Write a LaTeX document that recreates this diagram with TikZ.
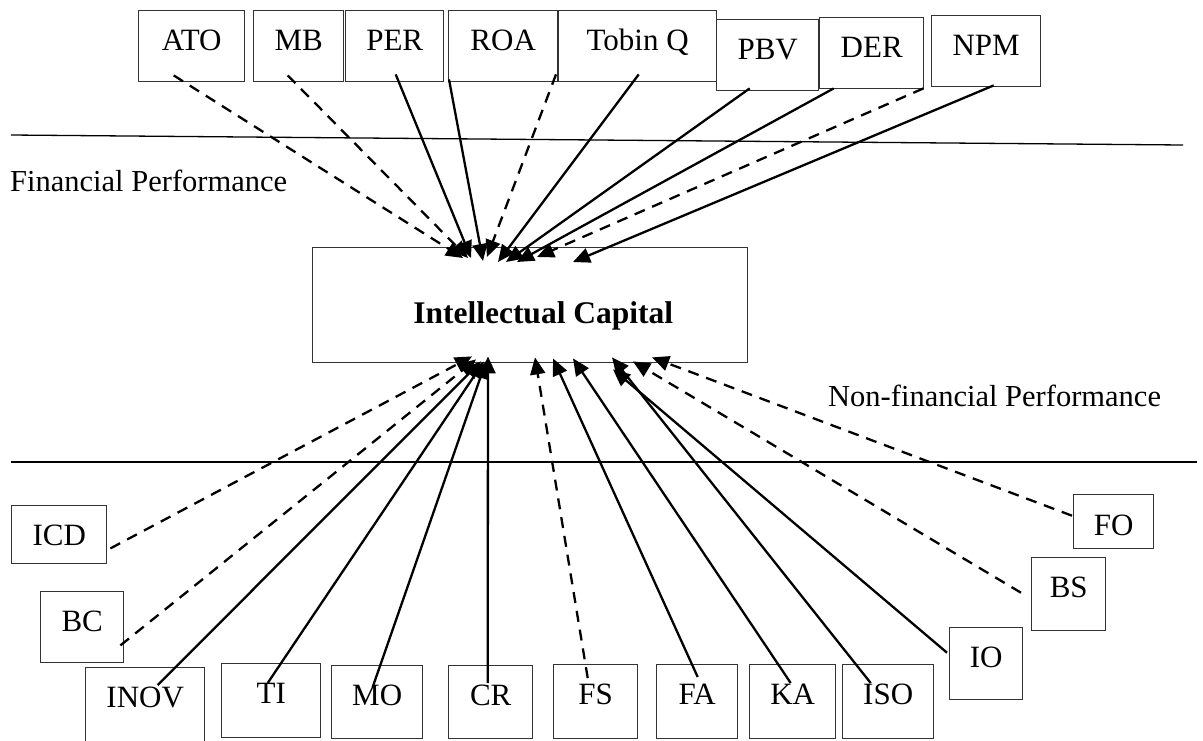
\documentclass[tikz,border=0pt]{standalone}
\usepackage{fontspec}
\setmainfont{Liberation Serif}
\usetikzlibrary{arrows.meta,calc}

\tikzset{
  box/.style={draw=black!80, line width=1.4pt, inner sep=0pt, text height=40pt,
    anchor=north west, font=\fontsize{31}{36}\selectfont},
  link/.style={line width=2.3pt, -{Triangle[length=17pt,width=15pt]}},
  dlink/.style={link, dash pattern=on 11pt off 8pt},
  rule/.style={line width=1.3pt},
  caption/.style={font=\fontsize{30.5}{36}\selectfont, anchor=base west, inner sep=0pt}
}

\begin{document}
\begin{tikzpicture}[x=1pt,y=-1pt]
\useasboundingbox (0,0) rectangle (1203,740);

% separating rules
\draw[rule] (11,135) -- (1183,145);
\draw[rule] (11,462) -- (1197,462);

\node[caption] (fin) at (10,191) {Financial Performance};
\node[caption] (nonfin) at (828,406) {Non-financial Performance};

% central construct
\node[box, minimum width=435pt, text height=76pt, text depth=39pt,
      font=\fontsize{31.5}{36}\selectfont\bfseries] (ic) at (312,247)
      {\hspace*{26pt}Intellectual Capital};

% financial indicators
\node[box, minimum width=106pt, text depth=31pt] (ato)   at (138,10) {ATO};
\node[box, minimum width=90pt,  text depth=31pt] (mb)    at (253,10) {MB};
\node[box, minimum width=98pt,  text depth=31pt] (per)   at (345,10) {PER};
\node[box, minimum width=109pt, text depth=31pt] (roa)   at (448,10) {ROA};
\node[box, minimum width=158pt, text depth=31pt] (tobin) at (558,10) {Tobin Q};
\node[box, minimum width=102pt, text depth=31pt] (pbv)   at (716,19) {PBV};
\node[box, minimum width=104pt, text depth=31pt] (der)   at (819,17) {DER};
\node[box, minimum width=109pt, text depth=31pt] (npm)   at (931,15) {NPM};

% non-financial indicators
\node[box, minimum width=95pt,  text depth=18pt] (icd)  at (11,505)  {ICD};
\node[box, minimum width=83pt,  text depth=31pt] (bc)   at (40,591)  {BC};
\node[box, minimum width=119pt, text depth=55pt] (inov) at (85,667)  {INOV};
\node[box, minimum width=99pt,  text depth=34pt] (ti)   at (221,663) {TI};
\node[box, minimum width=91pt,  text depth=33pt] (mo)   at (331,665) {MO};
\node[box, minimum width=84pt,  text depth=33pt] (cr)   at (448,665) {CR};
\node[box, minimum width=84pt,  text depth=34pt] (fs)   at (553,664) {FS};
\node[box, minimum width=81pt,  text depth=34pt] (fa)   at (656,664) {FA};
\node[box, minimum width=86pt,  text depth=34pt] (ka)   at (749,664) {KA};
\node[box, minimum width=91pt,  text depth=34pt] (iso)  at (842,664) {ISO};
\node[box, minimum width=73pt,  text depth=32pt] (io)   at (949,627) {IO};
\node[box, minimum width=74pt,  text depth=33pt] (bs)   at (1031,557) {BS};
\node[box, minimum width=80pt,  text height=41pt, text depth=13pt] (fo) at (1073,494) {FO};

% connector ends on the financial side
\coordinate (ato-o)   at ($(ato.south)+(-18,-7)$);
\coordinate (mb-o)    at ($(mb.south)+(-11,-7)$);
\coordinate (per-o)   at ($(per.south)+(1,-8)$);
\coordinate (roa-o)   at ($(roa.south west)+(1,-3)$);
\coordinate (tobd-o)  at ($(tobin.south west)+(-2,-8)$);
\coordinate (tob-o)   at ($(tobin.south)+(1,-8)$);
\coordinate (pbv-o)   at ($(pbv.south)+(-18,-3)$);
\coordinate (der-o)   at ($(der.south)+(-38,-1)$);
\coordinate (derd-o)  at ($(der.south east)+(-1,-1)$);
\coordinate (npm-o)   at ($(npm.south)+(7.5,-2)$);

\coordinate (ato-i)   at ($(ic.north west)+(151,11)$);
\coordinate (mb-i)    at ($(ic.north west)+(156,11)$);
\coordinate (per-i)   at ($(ic.north west)+(159,11)$);
\coordinate (roa-i)   at ($(ic.north west)+(171,14)$);
\coordinate (tobd-i)  at ($(ic.north west)+(175,10)$);
\coordinate (tob-i)   at ($(ic.north west)+(186,15)$);
\coordinate (pbv-i)   at ($(ic.north west)+(194,15)$);
\coordinate (der-i)   at ($(ic.north west)+(205,15)$);
\coordinate (derd-i)  at ($(ic.north west)+(225,10)$);
\coordinate (npm-i)   at ($(ic.north west)+(261,15)$);

% connector ends on the non-financial side
\coordinate (icd-o)  at ($(icd.south east)+(3,-16)$);
\coordinate (bc-o)   at ($(bc.south east)+(-4,-18)$);
\coordinate (inov-o) at ($(inov.north)+(12.5,18)$);
\coordinate (ti-o)   at ($(ti.north)+(-3.5,20)$);
\coordinate (mo-o)   at ($(mo.north)+(-4.5,22)$);
\coordinate (cr-o)   at ($(cr.north)+(-3,18)$);
\coordinate (fs-o)   at ($(fs.north)+(-8,14)$);
\coordinate (fa-o)   at ($(fa.north)+(0.5,13)$);
\coordinate (ka-o)   at ($(ka.north)+(-2,19)$);
\coordinate (iso-o)  at ($(iso.north)+(-17.5,19)$);
\coordinate (io-o)   at ($(io.west)+(-2,-11)$);
\coordinate (bs-o)   at ($(bs.west)+(-10,-1.5)$);
\coordinate (fo-o)   at ($(fo.west)+(-1,-6)$);

\coordinate (icd-i)  at ($(ic.south west)+(160,-7)$);
\coordinate (bc-i)   at ($(ic.south west)+(164,-4)$);
\coordinate (inov-i) at ($(ic.south west)+(169,-2)$);
\coordinate (ti-i)   at ($(ic.south west)+(172,-2)$);
\coordinate (mo-i)   at ($(ic.south west)+(174,-2)$);
\coordinate (cr-i)   at ($(ic.south west)+(176,-7)$);
\coordinate (fs-i)   at ($(ic.south west)+(223,-6)$);
\coordinate (fa-i)   at ($(ic.south west)+(241,-5)$);
\coordinate (ka-i)   at ($(ic.south west)+(261,-5)$);
\coordinate (iso-i)  at ($(ic.south west)+(300,-6)$);
\coordinate (io-i)   at ($(ic.south west)+(301,6)$);
\coordinate (bs-i)   at ($(ic.south west)+(321,-2)$);
\coordinate (fo-i)   at ($(ic.south west)+(340,-6)$);

% financial links
\draw[dlink] (ato-o)  -- (ato-i);
\draw[dlink] (mb-o)   -- (mb-i);
\draw[link]  (per-o)  -- (per-i);
\draw[link]  (roa-o)  -- (roa-i);
\draw[dlink] (tobd-o) -- (tobd-i);
\draw[link]  (tob-o)  -- (tob-i);
\draw[link]  (pbv-o)  -- (pbv-i);
\draw[link]  (der-o)  -- (der-i);
\draw[dlink] (derd-o) -- (derd-i);
\draw[link]  (npm-o)  -- (npm-i);

% non-financial links
\draw[dlink] (icd-o)  -- (icd-i);
\draw[dlink] (bc-o)   -- (bc-i);
\draw[link]  (inov-o) -- (inov-i);
\draw[link]  (ti-o)   -- (ti-i);
\draw[link]  (mo-o)   -- (mo-i);
\draw[link]  (cr-o)   -- (cr-i);
\draw[dlink] (fs-o)   -- (fs-i);
\draw[link]  (fa-o)   -- (fa-i);
\draw[link]  (ka-o)   -- (ka-i);
\draw[link]  (iso-o)  -- (iso-i);
\draw[link]  (io-o)   -- (io-i);
\draw[dlink] (bs-o)   -- (bs-i);
\draw[dlink] (fo-o)   -- (fo-i);
\end{tikzpicture}
\end{document}
